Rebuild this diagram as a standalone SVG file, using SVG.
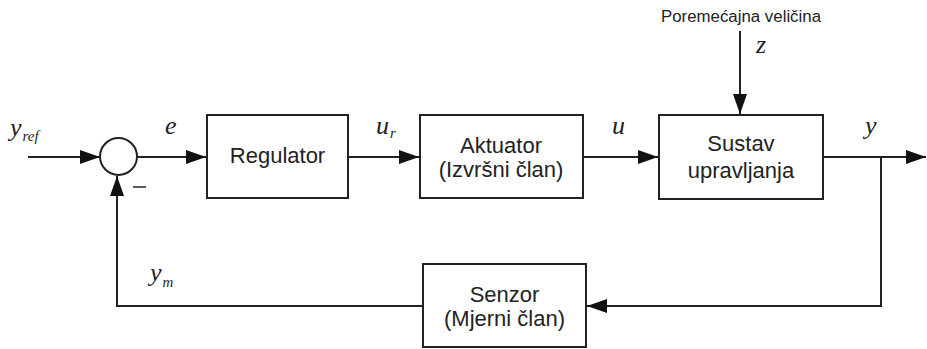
<svg xmlns="http://www.w3.org/2000/svg" width="927" height="349" viewBox="0 0 927 349">
<style>
.box{fill:#fff;stroke:#222;stroke-width:2}
.ln{fill:none;stroke:#222;stroke-width:2}
.t{font-family:"Liberation Sans",Arial,sans-serif;font-size:22px;fill:#222;text-anchor:middle}
.s{font-family:"Liberation Sans",Arial,sans-serif;font-size:16px;fill:#222;text-anchor:middle}
.m{font-family:"Liberation Serif","Times New Roman",serif;font-style:italic;font-size:26px;fill:#222}
.sub{font-size:15px}
</style>
<defs>
<marker id="ah" viewBox="0 0 20 14" refX="20" refY="7" markerWidth="20" markerHeight="14" markerUnits="userSpaceOnUse" orient="auto">
<path d="M0,0 L20,7 L0,14 Z" fill="#111"/>
</marker>
</defs>
<g id="connectors">
<line class="ln" x1="28" y1="157" x2="100" y2="157" marker-end="url(#ah)"/>
<line class="ln" x1="137" y1="157" x2="206" y2="157" marker-end="url(#ah)"/>
<line class="ln" x1="348" y1="157" x2="419" y2="157" marker-end="url(#ah)"/>
<line class="ln" x1="583" y1="157" x2="658" y2="157" marker-end="url(#ah)"/>
<line class="ln" x1="740" y1="31" x2="740" y2="114" marker-end="url(#ah)"/>
<line class="ln" x1="823" y1="157" x2="926" y2="157" marker-end="url(#ah)"/>
<polyline class="ln" points="881,157 881,306 587,306" marker-end="url(#ah)"/>
<polyline class="ln" points="423,306 117,306 117,176" marker-end="url(#ah)"/>
</g>
<g id="sum">
<circle cx="118.5" cy="156.5" r="18.5" fill="#fff" stroke="#222" stroke-width="2"/>
<line x1="133" y1="187" x2="146" y2="187" stroke="#222" stroke-width="1.5"/>
</g>
<g id="regulator">
<rect class="box" x="207" y="115" width="141" height="83"/>
<text class="t" x="277.5" y="163">Regulator</text>
</g>
<g id="aktuator">
<rect class="box" x="420" y="115" width="163" height="83"/>
<text class="t" x="501" y="153">Aktuator</text>
<text class="t" x="501" y="177">(Izvršni član)</text>
</g>
<g id="sustav">
<rect class="box" x="659" y="115" width="164" height="84"/>
<text class="t" x="741" y="151">Sustav</text>
<text class="t" x="741" y="178">upravljanja</text>
</g>
<g id="senzor">
<rect class="box" x="423" y="264" width="163" height="83"/>
<text class="t" x="504.5" y="302">Senzor</text>
<text class="t" x="504.5" y="326">(Mjerni član)</text>
</g>
<g id="labels">
<text class="s" x="741" y="22" textLength="160" lengthAdjust="spacingAndGlyphs">Poremećajna veličina</text>
<text class="m" x="756" y="53">z</text>
<text class="m" x="10" y="136">y<tspan class="sub" dx="1" dy="5">ref</tspan></text>
<text class="m" x="165" y="134">e</text>
<text class="m" x="376" y="134">u<tspan class="sub" dx="1" dy="4">r</tspan></text>
<text class="m" x="612" y="134">u</text>
<text class="m" x="865" y="134">y</text>
<text class="m" x="150" y="281">y<tspan class="sub" dx="1" dy="6">m</tspan></text>
</g>
</svg>
